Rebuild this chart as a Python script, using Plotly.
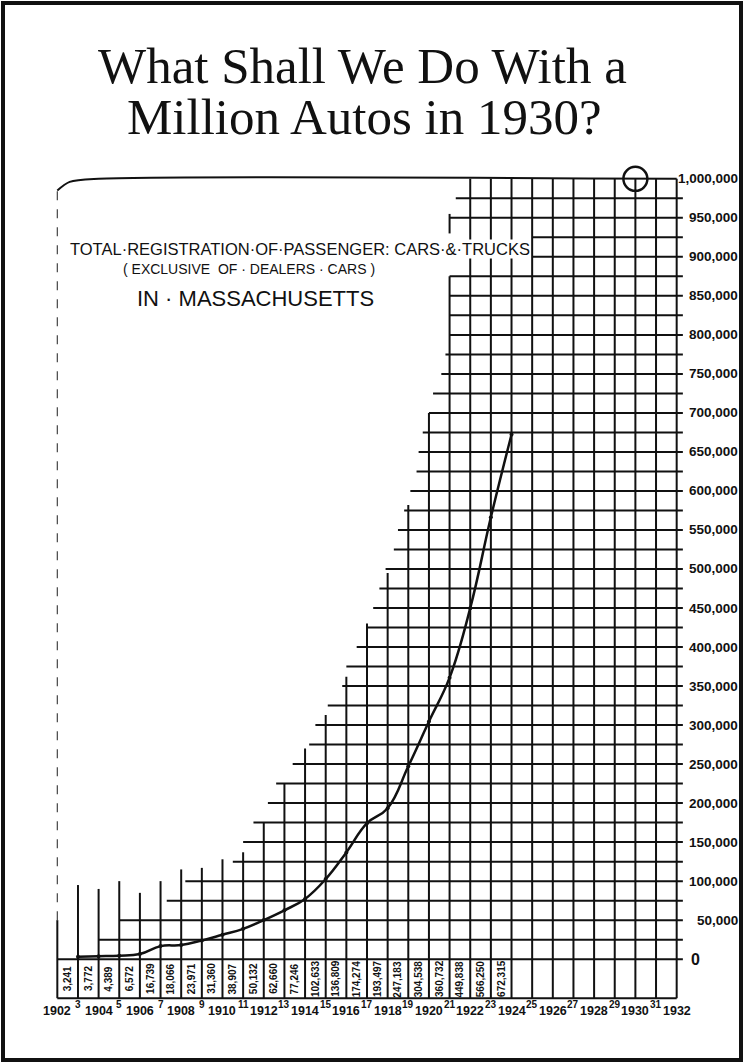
import plotly.graph_objects as go

# ---------------- data ----------------
years = list(range(1903, 1925))
registrations = [3241, 3772, 4389, 6572, 16739, 18066, 23971, 31360, 38907, 50132,
                 62660, 77246, 102633, 136809, 174274, 193497, 247183, 304538,
                 360732, 449838, 566250, 672315]
value_labels = ["3,241", "3,772", "4,389", "6,572", "16,739", "18,066", "23,971", "31,360",
                "38,907", "50,132", "62,660", "77,246", "102,633", "136,809", "174,274",
                "193,497", "247,183", "304,538", "360,732", "449,838", "566,250", "672,315"]

x_tick_years = list(range(1902, 1933))
x_tick_text = [str(y) if y % 2 == 0 else str(y % 100) for y in x_tick_years]

y_tick_vals = list(range(0, 1000001, 50000))
y_tick_text = ["0"] + [f"{v:,}" for v in y_tick_vals[1:]]

# staircase grid (hand-drawn grid extent)
hgrid_levels = list(range(0, 1000001, 25000))
hgrid_start = [1902, 1904.0, 1905.0, 1907.3, 1908.2, 1910.5, 1911.0, 1911.5, 1912.2, 1912.6,
               1913.4, 1914.2, 1914.5, 1915.1, 1915.8, 1916.0, 1916.5, 1917.0, 1917.3, 1917.6,
               1917.9, 1918.3, 1918.5, 1918.8, 1919.1, 1919.4, 1919.5, 1919.7, 1920.0, 1920.2,
               1920.6, 1920.8, 1921.0, 1921.0, 1921.0, 1921.0, 1925.0, 1925.0, 1921.0, 1921.3,
               1904.0]
vgrid_years = list(range(1903, 1933))
vgrid_tops = [95000, 90000, 100000, 85000, 100000, 115000, 117000, 128000, 137000, 175000,
              225000, 270000, 313000, 362000, 430000, 495000, 582000, 700000, 875000,
              1000000, 1000000, 1000000, 1000000, 1000000, 1000000, 1000000, 1000000,
              1000000, 1000000, 1000000]
grid_bottom = -50000
first_year, last_year = 1902, 1932

# ---------------- figure ----------------
W, H = 744, 1063
L, R, T, B = 47, 57, 171, 57
PW, PH = W - L - R, H - T - B


def px(xp):
    return (xp - L) / PW


def py(yp):
    return 1 - (yp - T) / PH


fig = go.Figure()
ink = "#111111"
sans = "Liberation Sans, Arial, sans-serif"

# horizontal grid lines
hx, hy = [], []
for lvl, st in zip(hgrid_levels[:-1], hgrid_start[:-1]):
    hx += [st, last_year + 0.3, None]
    hy += [lvl, lvl, None]
hx += [first_year, last_year, None]
hy += [grid_bottom, grid_bottom, None]
fig.add_trace(go.Scatter(x=hx, y=hy, mode="lines", line=dict(color=ink, width=2),
                         hoverinfo="skip", showlegend=False))

# vertical grid lines
vx, vy = [], []
for yr, top in zip(vgrid_years, vgrid_tops):
    vx += [yr, yr, None]
    vy += [grid_bottom, top, None]
vx += [1921, 1921, None]
vy += [930000, 955000, None]
vx += [first_year, first_year, None]
vy += [grid_bottom, 50000, None]
fig.add_trace(go.Scatter(x=vx, y=vy, mode="lines", line=dict(color=ink, width=2),
                         hoverinfo="skip", showlegend=False))
# faint left border
fig.add_trace(go.Scatter(x=[first_year, first_year], y=[50000, 985000], mode="lines",
                         line=dict(color="#444", width=1.2, dash="dash"),
                         hoverinfo="skip", showlegend=False))
# top curved line
fig.add_trace(go.Scatter(x=[first_year, 1902.6, 1904, last_year],
                         y=[985000, 996000, 1000000, 1000000], mode="lines",
                         line=dict(color=ink, width=2, shape="spline", smoothing=0.8),
                         hoverinfo="skip", showlegend=False))

# data curve
fig.add_trace(go.Scatter(x=years, y=registrations, mode="lines+markers",
                         line=dict(color=ink, width=2.5, shape="spline", smoothing=1.2),
                         marker=dict(color=ink, size=4), showlegend=False))

# 1930 target circle
fig.add_trace(go.Scatter(x=[1930], y=[1000000], mode="markers",
                         marker=dict(symbol="circle-open", size=24, color=ink,
                                     line=dict(width=2.5, color=ink)),
                         cliponaxis=False, showlegend=False, hoverinfo="skip"))

ann = []
# value labels in cells
for yr, lab in zip(years, value_labels):
    ann.append(dict(x=yr - 0.5, y=grid_bottom / 2, text=f"<b>{lab}</b>", textangle=-90,
                    showarrow=False, font=dict(family=sans, size=10, color=ink)))
# x labels
for yr, lab in zip(x_tick_years, x_tick_text):
    even = yr % 2 == 0
    ann.append(dict(x=yr, y=grid_bottom, yanchor="top", text=f"<b>{lab}</b>",
                    yshift=-4 if even else 1, showarrow=False,
                    font=dict(family=sans, size=12.5 if even else 10, color=ink)))
# y labels
for v, lab in zip(y_tick_vals, y_tick_text):
    if v == 0:
        ann.append(dict(x=last_year, y=v, xanchor="left", xshift=12, text="<b>0</b>",
                        showarrow=False, font=dict(family=sans, size=16, color=ink)))
    else:
        ann.append(dict(x=last_year, y=v, xanchor="right", xshift=63, text=f"<b>{lab}</b>",
                        showarrow=False, font=dict(family=sans, size=13.5, color=ink)))

# chart inscription
ann.append(dict(x=1913.75, y=910000, text="TOTAL·REGISTRATION·OF·PASSENGER: CARS·&·TRUCKS",
                showarrow=False, bgcolor="white", borderpad=0,
                font=dict(family=sans, size=16.5, color=ink)))
ann.append(dict(x=1911.3, y=885000, text="( EXCLUSIVE  OF · DEALERS · CARS )",
                showarrow=False, font=dict(family=sans, size=14, color=ink)))
ann.append(dict(x=1911.6, y=847000, text="IN · MASSACHUSETTS",
                showarrow=False, font=dict(family=sans, size=22, color=ink)))

# title
ann.append(dict(xref="paper", yref="paper", x=px(362), y=py(66), xanchor="center", yanchor="middle",
                text="What Shall We Do With a",
                showarrow=False, font=dict(family="Liberation Serif, serif", size=51, color=ink)))
ann.append(dict(xref="paper", yref="paper", x=px(364), y=py(117), xanchor="center", yanchor="middle",
                text="Million Autos in 1930?",
                showarrow=False, font=dict(family="Liberation Serif, serif", size=51, color=ink)))

fig.update_layout(
    width=W, height=H, margin=dict(l=L, r=R, t=T, b=B),
    paper_bgcolor="white", plot_bgcolor="white",
    xaxis=dict(range=[1901.5, 1932.5], visible=False, fixedrange=True),
    yaxis=dict(range=[-60000, 1010000], visible=False, fixedrange=True),
    annotations=ann,
    shapes=[dict(type="rect", xref="paper", yref="paper", x0=px(3), x1=px(741), y0=py(1060), y1=py(3),
                 line=dict(color=ink, width=4))],
)

fig.write_html("out.html", config={"displayModeBar": False},
               post_script="document.body.style.margin='0px';")
